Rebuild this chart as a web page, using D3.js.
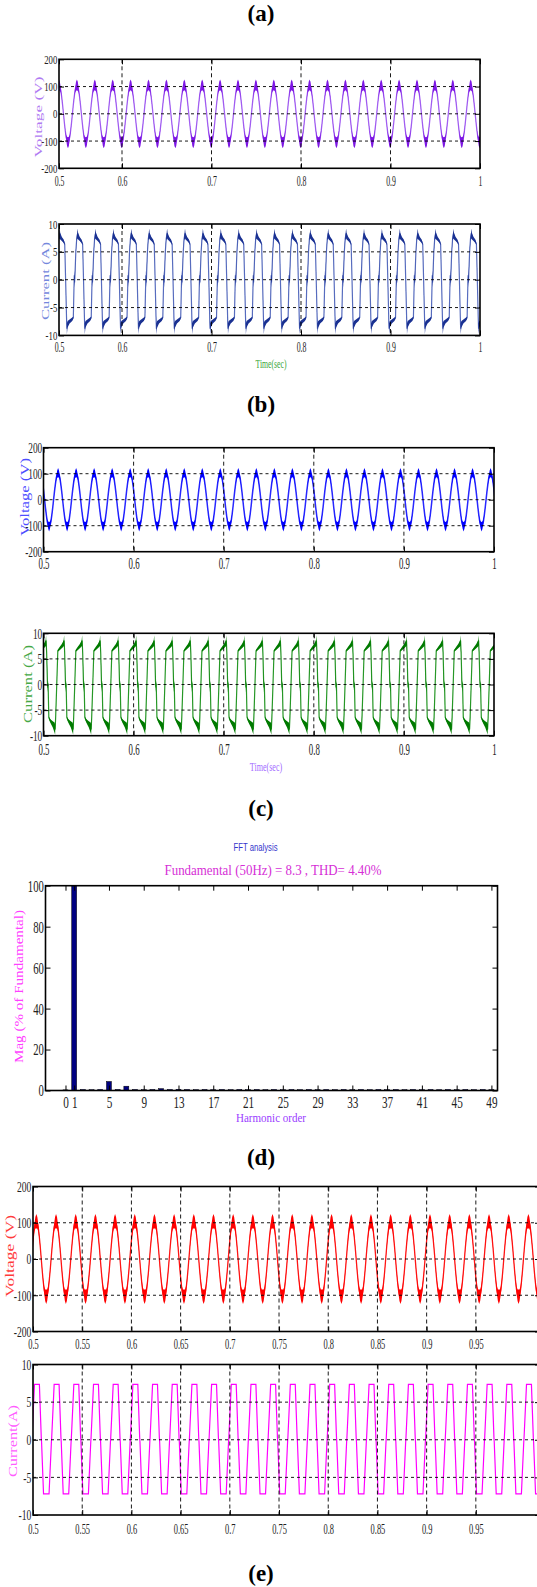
<!DOCTYPE html>
<html lang="en">
<head>
<meta charset="utf-8">
<script src="https://cdn.jsdelivr.net/npm/d3@7"></script>
<style>
  body { margin: 0; background: #fff; }
  svg { display: block; }
</style>
</head>
<body>
<svg id="fig" width="537" height="1587"></svg>
<script>
// ---------- data ----------
const period = 0.02;                       // 50 Hz
// one cycle of each voltage trace, sampled from the crest (phase 0) onward
const voltPhase = [0,0.05,0.1,0.15,0.2,0.25,0.3,0.35,0.4,0.45,0.5,0.55,0.6,0.65,0.7,0.75,0.8,0.85,0.9,0.95,1];
const voltA_mid = [106,101,86,62,33,0,-33,-62,-86,-101,-106,-101,-86,-62,-33,0,33,62,86,101,106];
const voltA_rip = [20,17,9,3,1.5,1,1.5,3,9,17,20,17,9,3,1.5,1,1.5,3,9,17,20];
const voltB_mid = [104,98,84,60,32,0,-32,-60,-84,-98,-104,-98,-84,-60,-32,0,32,60,84,98,104];
const voltB_rip = [18,14,8,3,1.5,1,1.5,3,8,14,18,14,8,3,1.5,1,1.5,3,8,14,18];
const voltD_mid = [104,100,86,62,33,0,-33,-62,-86,-100,-104,-100,-86,-62,-33,0,33,62,86,100,104];
const voltD_rip = [20,16,10,6,3.5,2.5,3.5,6,10,16,20,16,10,6,3.5,2.5,3.5,6,10,16,20];
const crestA = 0.5296, crestB = 0.5162, crestD = 0.5034;

// one cycle of each current trace, sampled from the start of the positive plateau
const curA_phase = [0,0.03,0.12,0.22,0.28,0.33,0.38,0.40,0.44,0.55,0.70,0.76,0.80,0.815,0.83,0.845,0.90,0.95,1];
const curA_mid   = [8.3,7.8,7.3,6.9,6.4,0,-6.7,-8.8,-8.0,-7.5,-7.1,-6.8,-1.0,0.8,-0.5,0.3,5.0,7.4,8.3];
const curA_rip   = [0.9,0.6,0.35,0.3,0.2,0.15,0.2,1.0,0.6,0.35,0.3,0.2,0.15,0.9,0.9,0.6,0.15,0.3,0.9];
const curB_phase = [0,0.10,0.22,0.32,0.35,0.38,0.42,0.44,0.46,0.50,0.55,0.62,0.72,0.82,0.85,0.88,0.94,1];
const curB_mid   = [6.6,7.0,7.5,8.0,8.6,6.2,0.7,-0.6,0.2,-6.4,-6.9,-7.3,-7.8,-8.4,-8.8,-6.4,0,6.6];
const curB_rip   = [0.2,0.3,0.4,0.6,1.0,0.3,0.9,0.9,0.5,0.2,0.3,0.4,0.6,1.0,1.0,0.3,0.15,0.2];
const curE_phase = [0,0.25,0.345,0.36,0.46,0.74,0.86,0.875,1];
const curE_val   = [7.35,7.35,0.3,-0.3,-7.2,-7.2,-0.3,0.3,7.35];
const curStartA = 0.5304, curStartB = 0.5159, curStartE = 0.5015;

// FFT spectrum (harmonic order 0..49, % of fundamental)
const harmonicOrder = d3.range(0, 50);
const harmonicMag = [0.3,100,0.5,0.4,0.5,4.4,0.5,2.1,0.5,0.4,0.5,0.9,0.5,0.6,0.5,0.4,0.5,0.4,0.5,0.4,
                     0.5,0.4,0.5,0.4,0.5,0.4,0.5,0.4,0.5,0.4,0.5,0.4,0.5,0.4,0.5,0.4,0.5,0.4,0.5,0.4,
                     0.5,0.4,0.5,0.4,0.5,0.4,0.5,0.4,0.5,0.4];

// tick values and labels
const tA_vals = [0.5296,0.6,0.7,0.8,0.9,1.0];
const tA_labels = ["0.5","0.6","0.7","0.8","0.9","1"];
const tB_vals = [0.5,0.6,0.7,0.8,0.9,1.0];
const tB_labels = ["0.5","0.6","0.7","0.8","0.9","1"];
const tD_vals = [0.5,0.55,0.6,0.65,0.7,0.75,0.8,0.85,0.9,0.95];
const tD_labels = ["0.5","0.55","0.6","0.65","0.7","0.75","0.8","0.85","0.9","0.95"];
const tGrid10 = [0.6,0.7,0.8,0.9];
const tGrid05 = [0.55,0.6,0.65,0.7,0.75,0.8,0.85,0.9,0.95];
const vTicks = [-200,-100,0,100,200];
const vLabels = ["-200","-100","0","100","200"];
const iTicks = [-10,-5,0,5,10];
const iLabels = ["-10","-5","0","5","10"];
const hTicks = [0,1,5,9,13,17,21,25,29,33,37,41,45,49];
const magTicks = [0,20,40,60,80,100];

// ---------- drawing ----------
const serif = "'Liberation Serif', 'Times New Roman', serif";
const svg = d3.select("#fig");
svg.append("rect").attr("width", 537).attr("height", 1587).attr("fill", "#fff");
const defs = svg.append("defs");
let clipN = 0;

function tile(start, phases, mids, rips, t0, t1) {
  const pts = [];
  const k0 = Math.floor((t0 - start) / period) - 1;
  const k1 = Math.ceil((t1 - start) / period) + 1;
  for (let k = k0; k <= k1; k++) {
    phases.forEach((p, i) => pts.push({ t: start + (k + p) * period, v: mids[i], r: rips ? rips[i] : 0 }));
  }
  return pts;
}

function makePanel(c) {
  const x = d3.scaleLinear().domain(c.xDom).range([c.left, c.right]);
  const y = d3.scaleLinear().domain(c.yDom).range([c.bottom, c.top]);
  const id = "clip" + (clipN++);
  defs.append("clipPath").attr("id", id).append("rect")
    .attr("x", c.left).attr("y", c.top).attr("width", c.right - c.left).attr("height", c.bottom - c.top);
  const plot = svg.append("g").attr("clip-path", `url(#${id})`);
  return { x, y, plot, c };
}

function finishPanel(p) {
  const { x, y, c } = p;
  const g = svg.append("g");
  // grid
  g.selectAll(null).data(c.yGrid || []).join("line")
    .attr("x1", c.left).attr("x2", c.right).attr("y1", d => y(d)).attr("y2", d => y(d))
    .attr("stroke", "#000").attr("stroke-width", 0.9).attr("stroke-dasharray", "3,3");
  g.selectAll(null).data(c.xGrid || []).join("line")
    .attr("x1", d => x(d)).attr("x2", d => x(d)).attr("y1", c.top).attr("y2", c.bottom)
    .attr("stroke", "#000").attr("stroke-width", 0.9).attr("stroke-dasharray", "4,3");
  // frame
  g.append("rect").attr("x", c.left).attr("y", c.top)
    .attr("width", c.right - c.left).attr("height", c.bottom - c.top)
    .attr("fill", "none").attr("stroke", "#000").attr("stroke-width", 1.6);

  const styleAxis = (ax, fs, sx) => {
    ax.select(".domain").remove();
    ax.attr("font-family", serif).attr("font-size", fs);
    ax.selectAll(".tick text").attr("fill", "#222").attr("transform", `scale(${sx},1)`);
    ax.selectAll(".tick line").attr("stroke", "#000");
  };
  const bx = g.append("g").attr("transform", `translate(0,${c.bottom})`)
    .call(d3.axisBottom(x).tickValues(c.xTicks).tickFormat((d, i) => c.xLabels[i])
      .tickSizeInner(-5).tickSizeOuter(0).tickPadding(c.xPad));
  styleAxis(bx, c.xFs, c.xSx);
  const tx = g.append("g").attr("transform", `translate(0,${c.top})`)
    .call(d3.axisTop(x).tickValues(c.xTicks).tickFormat("").tickSizeInner(-5).tickSizeOuter(0));
  tx.select(".domain").remove();
  const ly = g.append("g").attr("transform", `translate(${c.left},0)`)
    .call(d3.axisLeft(y).tickValues(c.yTicks).tickFormat((d, i) => c.yLabels[i])
      .tickSizeInner(-5).tickSizeOuter(0).tickPadding(c.yPad));
  styleAxis(ly, c.yFs, c.ySx);
  const ry = g.append("g").attr("transform", `translate(${c.right},0)`)
    .call(d3.axisRight(y).tickValues(c.yTicks).tickFormat("").tickSizeInner(-5).tickSizeOuter(0));
  ry.select(".domain").remove();
}

// thin trace first, then the switching-ripple band over it
function drawBand(p, pts, fill, lineColor, lw) {
  const { x, y, plot } = p;
  plot.append("path").datum(pts)
    .attr("d", d3.line().x(d => x(d.t)).y(d => y(d.v)))
    .attr("fill", "none").attr("stroke", lineColor).attr("stroke-width", lw);
  plot.append("path").datum(pts)
    .attr("d", d3.area().x(d => x(d.t)).y0(d => y(d.v - d.r)).y1(d => y(d.v + d.r)))
    .attr("fill", fill);
}

function label(txt, x, y, o) {
  const t = svg.append("text").attr("x", x).attr("y", y).attr("text-anchor", "middle")
    .attr("font-family", o.family || serif).attr("font-size", o.size).attr("fill", o.color || "#000")
    .text(txt);
  if (o.bold) t.attr("font-weight", "bold");
  if (o.len) t.attr("textLength", o.len).attr("lengthAdjust", "spacingAndGlyphs");
  if (o.rot) t.attr("transform", `rotate(-90 ${x} ${y})`);
  return t;
}

// ----- (a) -----
label("(a)", 261, 21, { size: 23, bold: true });
const aV = makePanel({ left: 59, right: 480, top: 59.3, bottom: 168.3, xDom: [0.5296, 1], yDom: [-200, 200],
  xTicks: tA_vals, xLabels: tA_labels, yTicks: vTicks, yLabels: vLabels, xGrid: tGrid10, yGrid: [-100, 0, 100],
  xPad: 7.5, xFs: 15, xSx: 0.52, yPad: 2.5, yFs: 12.5, ySx: 0.7 });
drawBand(aV, tile(crestA, voltPhase, voltA_mid, voltA_rip, 0.5, 1), "#7d16e4", "#a565f2", 1.3);
finishPanel(aV);
label("Voltage (V)", 41.5, 117, { size: 11, color: "#b07af2", len: 81, rot: true });

const aC = makePanel({ left: 59, right: 480, top: 224, bottom: 335.4, xDom: [0.5296, 1], yDom: [-10, 10],
  xTicks: tA_vals, xLabels: tA_labels, yTicks: iTicks, yLabels: iLabels, xGrid: tGrid10, yGrid: [-5, 0, 5],
  xPad: 6.3, xFs: 15, xSx: 0.52, yPad: 2.5, yFs: 12.5, ySx: 0.7 });
drawBand(aC, tile(curStartA, curA_phase, curA_mid, curA_rip, 0.5, 1), "#1a3192", "#5a6fc0", 1.2);
finishPanel(aC);
label("Current (A)", 48.5, 281, { size: 11, color: "#7487dc", len: 78, rot: true });
label("Time(sec)", 271, 368, { size: 13, color: "#39a639", len: 31 });

// ----- (b) -----
label("(b)", 261, 412, { size: 23, bold: true });
const bV = makePanel({ left: 43.5, right: 494, top: 447.7, bottom: 551.7, xDom: [0.5, 1], yDom: [-200, 200],
  xTicks: tB_vals, xLabels: tB_labels, yTicks: vTicks, yLabels: vLabels, xGrid: tGrid10, yGrid: [-100, 0, 100],
  xPad: 6.2, xFs: 16, xSx: 0.55, yPad: 2, yFs: 15, ySx: 0.62 });
drawBand(bV, tile(crestB, voltPhase, voltB_mid, voltB_rip, 0.5, 1), "#0000ff", "#2b2bff", 1.5);
finishPanel(bV);
label("Voltage (V)", 29, 497, { size: 12.5, color: "#4d4dff", len: 78, rot: true });

const bC = makePanel({ left: 43.5, right: 494, top: 633.3, bottom: 735.7, xDom: [0.5, 1], yDom: [-10, 10],
  xTicks: tB_vals, xLabels: tB_labels, yTicks: iTicks, yLabels: iLabels, xGrid: tGrid10, yGrid: [-5, 0, 5],
  xPad: 7.7, xFs: 16, xSx: 0.55, yPad: 2, yFs: 15, ySx: 0.62 });
drawBand(bC, tile(curStartB, curB_phase, curB_mid, curB_rip, 0.5, 1), "#007a00", "#2a9a2a", 1.2);
finishPanel(bC);
label("Current (A)", 32, 684, { size: 12.5, color: "#45a845", len: 78, rot: true });
label("Time(sec)", 266, 771, { size: 13, color: "#a36bff", len: 32.5 });

// ----- (c) -----
label("(c)", 261, 816, { size: 23, bold: true });
label("FFT analysis", 255.5, 851, { size: 10, family: "'Liberation Sans', Arial, sans-serif", color: "#3535cc", len: 44 });
label("Fundamental (50Hz) = 8.3 , THD= 4.40%", 273, 875, { size: 15, color: "#d62fd6", len: 217 });

const cP = makePanel({ left: 45.5, right: 497.5, top: 885.7, bottom: 1090.5, xDom: [-2.3, 49.7], yDom: [0, 100],
  xTicks: hTicks, xLabels: hTicks.map(String), yTicks: magTicks, yLabels: magTicks.map(String),
  xPad: 6.4, xFs: 16, xSx: 0.7, yPad: 2.6, yFs: 17, ySx: 0.63 });
cP.plot.selectAll("rect.bar").data(harmonicOrder).join("rect")
  .attr("class", "bar")
  .attr("x", h => cP.x(h - 0.285))
  .attr("width", h => cP.x(h + 0.285) - cP.x(h - 0.285))
  .attr("y", (h, i) => cP.y(harmonicMag[i]))
  .attr("height", (h, i) => cP.y(0) - cP.y(harmonicMag[i]))
  .attr("fill", "#000080").attr("stroke", "#000").attr("stroke-width", 0.5);
finishPanel(cP);
label("Mag (% of Fundamental)", 22.5, 986.5, { size: 13, color: "#ff40ff", len: 153, rot: true });
label("Harmonic order", 271, 1122, { size: 13, color: "#9a3cff", len: 70 });

// ----- (d) -----
label("(d)", 261, 1165, { size: 23, bold: true });
const dV = makePanel({ left: 33, right: 540, top: 1186.5, bottom: 1331.5, xDom: [0.5, 1.0152], yDom: [-200, 200],
  xTicks: tD_vals, xLabels: tD_labels, yTicks: vTicks, yLabels: vLabels, xGrid: tGrid05, yGrid: [-100, 0, 100],
  xPad: 6.8, xFs: 15, xSx: 0.56, yPad: 2.6, yFs: 15, ySx: 0.64 });
drawBand(dV, tile(crestD, voltPhase, voltD_mid, voltD_rip, 0.5, 1.02), "#ff0000", "#ff1a1a", 1.3);
finishPanel(dV);
label("Voltage (V)", 13.5, 1256, { size: 13, color: "#ff3b3b", len: 82, rot: true });

const eC = makePanel({ left: 33, right: 540, top: 1364.5, bottom: 1515, xDom: [0.5, 1.0152], yDom: [-10, 10],
  xTicks: tD_vals, xLabels: tD_labels, yTicks: iTicks, yLabels: iLabels, xGrid: tGrid05, yGrid: [-5, 0, 5],
  xPad: 8.3, xFs: 15, xSx: 0.56, yPad: 2.6, yFs: 15, ySx: 0.64 });
eC.plot.append("path").datum(tile(curStartE, curE_phase, curE_val, null, 0.5, 1.02))
  .attr("d", d3.line().x(d => eC.x(d.t)).y(d => eC.y(d.v)))
  .attr("fill", "none").attr("stroke", "#ff00ff").attr("stroke-width", 1.2);
finishPanel(eC);
label("Current(A)", 17, 1441, { size: 12, color: "#ff5cff", len: 72, rot: true });

label("(e)", 261, 1581, { size: 23, bold: true });
</script>
</body>
</html>
